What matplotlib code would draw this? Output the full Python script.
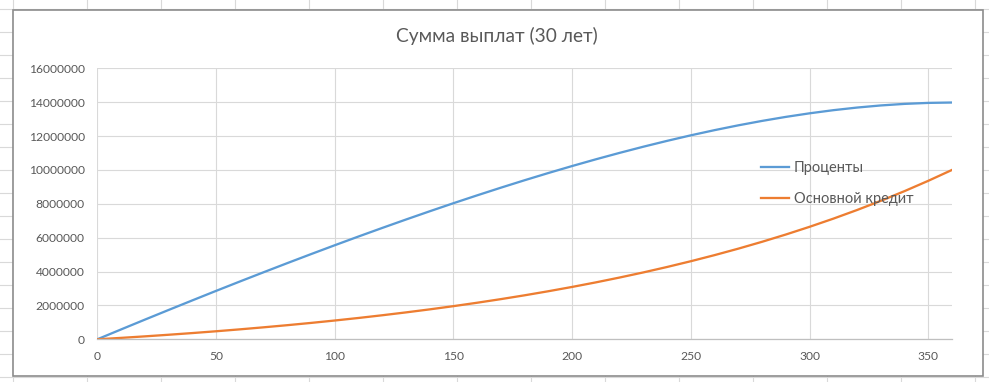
import matplotlib
matplotlib.use("Agg")
import matplotlib.pyplot as plt
from matplotlib.lines import Line2D
from matplotlib.patches import Rectangle
from matplotlib.ticker import FuncFormatter, MultipleLocator

plt.rcParams['font.family'] = ['Lato', 'DejaVu Sans']

# Data (months, cumulative amounts)
months = [0, 10, 20, 30, 40, 50, 60, 70, 80, 90, 100, 110, 120, 130, 140, 150,
          160, 170, 180, 190, 200, 210, 220, 230, 240, 250, 260, 270, 280, 290,
          300, 310, 320, 330, 340, 350, 360]
interest = [0, 582000, 1159000, 1730000, 2296000, 2857000, 3410000, 3956000,
            4496000, 5028000, 5552000, 6068000, 6574000, 7071000, 7558000,
            8035000, 8499000, 8952000, 9392000, 9818000, 10230000, 10627000,
            11007000, 11371000, 11716000, 12043000, 12349000, 12633000,
            12894000, 13131000, 13342000, 13527000, 13682000, 13807000,
            13899000, 13957000, 13980000]
principal = [0, 84000, 173000, 268000, 368000, 474000, 587000, 707000, 833000,
             967000, 1109000, 1259000, 1419000, 1588000, 1767000, 1957000,
             2159000, 2372000, 2598000, 2838000, 3092000, 3361000, 3647000,
             3949000, 4270000, 4610000, 4970000, 5352000, 5757000, 6186000,
             6641000, 7122000, 7633000, 8174000, 8748000, 9357000, 10000000]
series_names = ["Проценты", "Основной кредит"]
title = "Сумма выплат (30 лет)"

W, H = 989, 382
fig = plt.figure(figsize=(W / 100, H / 100), dpi=100)
fig.patch.set_facecolor("white")

def fx(x):
    return x / W

def fy(y):
    return 1 - y / H

# Excel sheet gridlines in the background
sheet_c = "#d9d9d9"
x = 12.6
while x < W:
    fig.add_artist(Line2D([fx(x), fx(x)], [0, 1], color=sheet_c, lw=0.8, zorder=0))
    x += 74.0
y = 9.3
while y < H:
    fig.add_artist(Line2D([0, 1], [fy(y), fy(y)], color=sheet_c, lw=0.8, zorder=0))
    y += 23.0

# Chart frame
fig.add_artist(Rectangle((fx(12.5), fy(376)), fx(983.3) - fx(12.5), fy(10) - fy(376),
                         facecolor="white", edgecolor="#8c8c8c", lw=1.2, zorder=1))

ax = fig.add_axes([fx(97.3), fy(339.3), fx(952) - fx(97.3), fy(68.3) - fy(339.3)])
ax.set_zorder(2)
ax.patch.set_alpha(0)

lw = 1.65
ax.plot(months, interest, color="#5b9bd5", lw=lw, label=series_names[0])
ax.plot(months, principal, color="#ed7d31", lw=lw, label=series_names[1])

ax.set_xlim(0, 360)
ax.set_ylim(0, 16000000)
ax.xaxis.set_major_locator(MultipleLocator(50))
ax.yaxis.set_major_locator(MultipleLocator(2000000))
ax.yaxis.set_major_formatter(FuncFormatter(lambda v, p: "%d" % v))
ax.grid(True, color="#d9d9d9", lw=0.8)
ax.set_axisbelow(True)
for s in ["top", "right", "left"]:
    ax.spines[s].set_visible(False)
ax.spines["bottom"].set_color("#bfbfbf")
ax.spines["bottom"].set_linewidth(0.9)
ax.tick_params(axis="both", length=0, labelsize=8.7, colors="#595959")
ax.tick_params(axis="y", pad=9)
ax.tick_params(axis="x", pad=8.5)

fig.text(fx(496.5), fy(36), title, ha="center", va="center", fontsize=13.8,
         color="#595959")

leg = ax.legend(loc="upper left", bbox_to_anchor=(fx(753.4), fy(154)),
                bbox_transform=fig.transFigure, frameon=False, fontsize=10.5,
                handlelength=1.92, handletextpad=0.34, labelspacing=1.15,
                borderpad=0)
for t in leg.get_texts():
    t.set_color("#595959")

fig.savefig("out.png", dpi=100, facecolor="white")
